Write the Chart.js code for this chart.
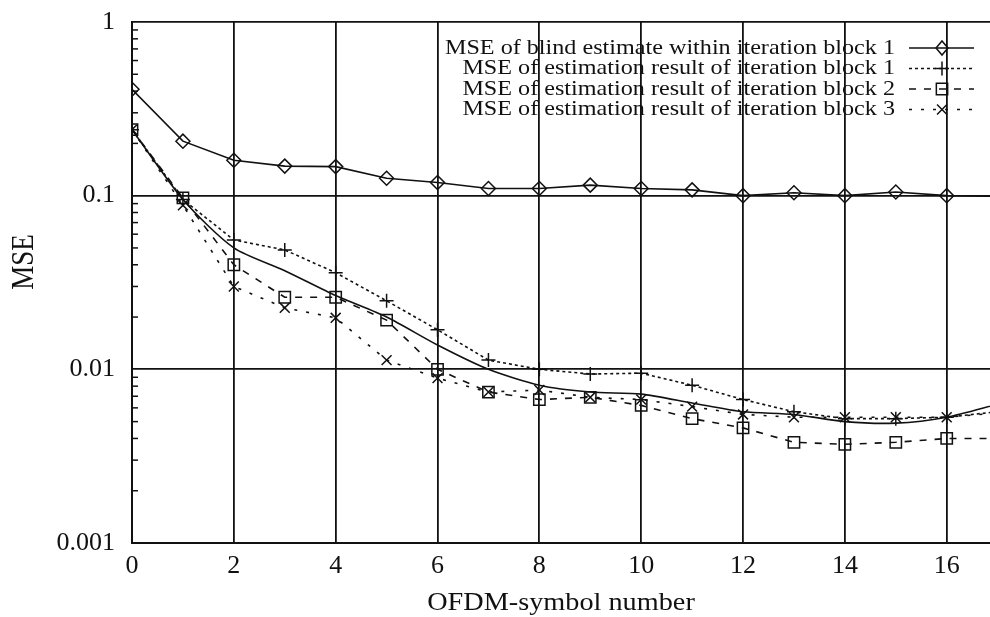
<!DOCTYPE html>
<html>
<head>
<meta charset="utf-8">
<script src="https://cdn.jsdelivr.net/npm/chart.js@4.4.1/dist/chart.umd.min.js"></script>
<style>
  html, body { margin: 0; padding: 0; background: #fff; overflow: hidden; }
  #wrap { width: 990px; height: 617px; }
</style>
</head>
<body>
<div id="wrap"><canvas id="mseChart" width="990" height="617"></canvas></div>
<script>
// OFDM symbol index
const symbols = [0, 1, 2, 3, 4, 5, 6, 7, 8, 9, 10, 11, 12, 13, 14, 15, 16, 17];

// MSE curves
const blindBlock1 = [0.41, 0.206, 0.16, 0.148, 0.147, 0.126, 0.119, 0.11, 0.11, 0.115, 0.11, 0.108, 0.1, 0.104, 0.1, 0.105, 0.1, 0.099];
const estBlock1 = [0.24, 0.095, 0.0556, 0.0487, 0.036, 0.0248, 0.0169, 0.0113, 0.0100, 0.0094, 0.0095, 0.0081, 0.0067, 0.0057, 0.0052, 0.0052, 0.0053, 0.0057];
const estBlock2 = [0.24, 0.097, 0.040, 0.026, 0.026, 0.0192, 0.0100, 0.0074, 0.0067, 0.0069, 0.0062, 0.0052, 0.0046, 0.0038, 0.0037, 0.0038, 0.0040, 0.0040];
const estBlock3 = [0.24, 0.088, 0.030, 0.0226, 0.0198, 0.0113, 0.0089, 0.0074, 0.0076, 0.0069, 0.0067, 0.0061, 0.0055, 0.0053, 0.0053, 0.0053, 0.0053, 0.0056];
// unlabelled solid curve without markers
const plainCurve = [0.24, 0.095, 0.050, 0.037, 0.0266, 0.020, 0.0138, 0.010, 0.0081, 0.0074, 0.0072, 0.0064, 0.0057, 0.0055, 0.0050, 0.0049, 0.0053, 0.0063];

const xTicks = [0, 2, 4, 6, 8, 10, 12, 14, 16];
const yTicks = [0.001, 0.01, 0.1, 1];
const yTickLabels = ["0.001", "0.01", "0.1", "1"];

const xTitle = "OFDM-symbol number";
const yTitle = "MSE";
const legendLabels = [
    "MSE of blind estimate within iteration block 1",
    "MSE of estimation result of iteration block 1",
    "MSE of estimation result of iteration block 2",
    "MSE of estimation result of iteration block 3"
];

const serif = "'Liberation Serif', 'DejaVu Serif', serif";
const stretch = 1.13; // the scanned lettering is a bit wider than tall

function pts(values) {
    return values.map((v, i) => ({ x: symbols[i], y: v }));
}

const styles = [
    { pointStyle: "rectRot", radius: 7, dash: [] },
    { pointStyle: "cross", radius: 7, dash: [3, 3] },
    { pointStyle: "rect", radius: 8, dash: [7, 8] },
    { pointStyle: "crossRot", radius: 7, dash: [3, 9] }
];

function drawMarker(ctx, style, radius, x, y) {
    ctx.beginPath();
    if (style === "rectRot") {
        ctx.moveTo(x, y - radius); ctx.lineTo(x + radius * 0.85, y);
        ctx.lineTo(x, y + radius); ctx.lineTo(x - radius * 0.85, y); ctx.closePath();
    } else if (style === "cross") {
        ctx.moveTo(x, y - radius); ctx.lineTo(x, y + radius);
        ctx.moveTo(x - radius, y); ctx.lineTo(x + radius, y);
    } else if (style === "rect") {
        const s = radius * Math.SQRT1_2;
        ctx.rect(x - s, y - s, 2 * s, 2 * s);
    } else if (style === "crossRot") {
        const s = radius * Math.SQRT1_2;
        ctx.moveTo(x - s, y - s); ctx.lineTo(x + s, y + s);
        ctx.moveTo(x + s, y - s); ctx.lineTo(x - s, y + s);
    }
    ctx.stroke();
}

// legend drawn inside the plot, text right-aligned with sample to the right
const plotLegend = {
    id: "plotLegend",
    afterDatasetsDraw(chart) {
        const ctx = chart.ctx;
        ctx.save();
        ctx.strokeStyle = "#111";
        ctx.lineWidth = 1.5;
        legendLabels.forEach((label, i) => {
            const y = 48 + i * 20.5;
            ctx.save();
            ctx.translate(895, y);
            ctx.scale(1.15, 1);
            ctx.font = "21px " + serif;
            ctx.fillStyle = "#111";
            ctx.textAlign = "right";
            ctx.textBaseline = "middle";
            ctx.fillText(label, 0, 0);
            ctx.restore();
            ctx.setLineDash(styles[i].dash);
            ctx.beginPath();
            ctx.moveTo(909, y); ctx.lineTo(974, y);
            ctx.stroke();
            ctx.setLineDash([]);
            drawMarker(ctx, styles[i].pointStyle, styles[i].radius, 942, y);
        });
        ctx.restore();
    }
};

// axis titles placed where the original has them
const axisTitles = {
    id: "axisTitles",
    afterDraw(chart) {
        const ctx = chart.ctx;
        ctx.save();
        ctx.fillStyle = "#111";
        ctx.textAlign = "center";
        ctx.textBaseline = "alphabetic";

        ctx.save();
        ctx.translate(561, 610);
        ctx.scale(stretch, 1);
        ctx.font = "25px " + serif;
        ctx.fillText(xTitle, 0, 0);
        ctx.restore();

        ctx.save();
        ctx.translate(33, 262);
        ctx.scale(stretch, 1);
        ctx.rotate(-Math.PI / 2);
        ctx.font = "27px " + serif;
        ctx.fillText(yTitle, 0, 0);
        ctx.restore();

        ctx.restore();
    }
};

// minor log ticks on the left axis
const minorTicks = {
    id: "minorTicks",
    afterDraw(chart) {
        const y = chart.scales.y;
        const area = chart.chartArea;
        const ctx = chart.ctx;
        ctx.save();
        ctx.strokeStyle = "#111";
        ctx.lineWidth = 1.5;
        for (let d = 0; d < yTicks.length - 1; d++) {
            for (let m = 2; m <= 9; m++) {
                const py = y.getPixelForValue(yTicks[d] * m);
                ctx.beginPath();
                ctx.moveTo(area.left, py);
                ctx.lineTo(area.left + 6, py);
                ctx.stroke();
            }
        }
        ctx.restore();
    }
};

const ctx = document.getElementById("mseChart").getContext("2d");
new Chart(ctx, {
    type: "line",
    data: {
        datasets: [
            { data: pts(blindBlock1), borderDash: styles[0].dash, pointStyle: styles[0].pointStyle, pointRadius: styles[0].radius },
            { data: pts(estBlock1), borderDash: styles[1].dash, pointStyle: styles[1].pointStyle, pointRadius: styles[1].radius },
            { data: pts(estBlock2), borderDash: styles[2].dash, pointStyle: styles[2].pointStyle, pointRadius: styles[2].radius },
            { data: pts(estBlock3), borderDash: styles[3].dash, pointStyle: styles[3].pointStyle, pointRadius: styles[3].radius },
            { data: pts(plainCurve), borderDash: [], pointRadius: 0, tension: 0.25 }
        ].map(ds => Object.assign({
            borderColor: "#111",
            borderWidth: 1.6,
            pointBorderColor: "#111",
            pointBackgroundColor: "rgba(0,0,0,0)",
            pointBorderWidth: 1.5,
            fill: false
        }, ds))
    },
    options: {
        responsive: false,
        animation: false,
        layout: { autoPadding: false, padding: { top: 22, right: 0, left: 0, bottom: 0 } },
        plugins: {
            legend: { display: false },
            tooltip: { enabled: false }
        },
        scales: {
            x: {
                type: "linear",
                min: 0,
                max: 16.85,
                afterBuildTicks: scale => { scale.ticks = xTicks.map(v => ({ value: v })); },
                afterFit: scale => { scale.height = 74; scale.paddingLeft = 0; scale.paddingRight = 0; },
                grid: { color: "#111", lineWidth: 1.8, drawTicks: false },
                border: { display: true, color: "#111", width: 2 },
                ticks: { color: "#111", font: { family: serif, size: 26 }, padding: 8, maxRotation: 0 },
                title: { display: false }
            },
            y: {
                type: "logarithmic",
                min: 0.001,
                max: 1,
                afterBuildTicks: scale => { scale.ticks = yTicks.map(v => ({ value: v })); },
                afterFit: scale => { scale.width = 132; scale.paddingTop = 0; scale.paddingBottom = 0; },
                grid: { color: "#111", lineWidth: 1.8, drawTicks: false },
                border: { display: true, color: "#111", width: 2 },
                ticks: {
                    color: "#111", font: { family: serif, size: 26 }, padding: 17,
                    callback: (v) => { const i = yTicks.indexOf(v); return i >= 0 ? yTickLabels[i] : ""; }
                },
                title: { display: false }
            }
        }
    },
    plugins: [plotLegend, minorTicks, axisTitles]
});
</script>
</body>
</html>
